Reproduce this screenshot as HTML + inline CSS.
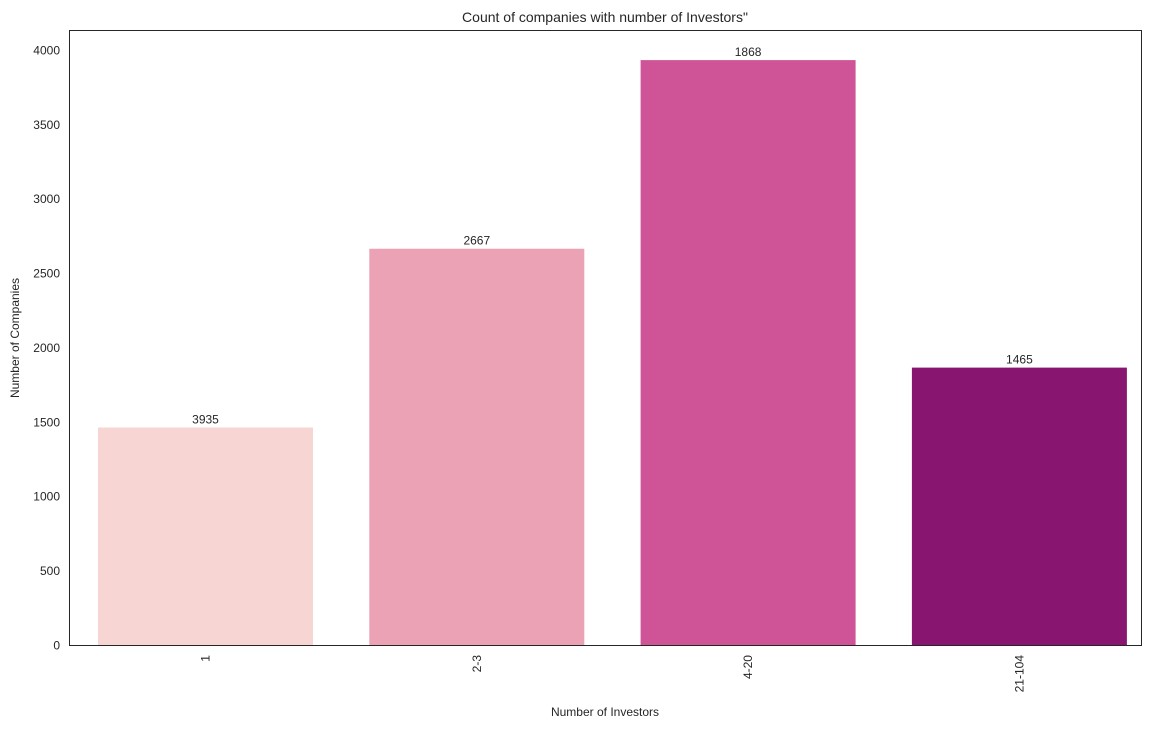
<!DOCTYPE html>
<html><head><meta charset="utf-8">
<style>
html,body{margin:0;padding:0;background:#fff;}
svg text{font-family:"Liberation Sans",sans-serif;fill:#262626;}
</style></head>
<body>
<svg id="chart" width="1165" height="728" viewBox="0 0 1165 728" xmlns="http://www.w3.org/2000/svg">
<text x="605" y="22" text-anchor="middle" font-size="14">Count of companies with number of Investors"</text>
<text x="605" y="716" text-anchor="middle" font-size="12">Number of Investors</text>
<text transform="translate(19,338) rotate(-90)" text-anchor="middle" font-size="12">Number of Companies</text>
<g id="bars"></g>
<g id="yticks"></g>
<g id="xticks"></g>
<rect x="69.5" y="30.5" width="1072" height="615" fill="none" stroke="#262626" stroke-width="1"/>
</svg>
<script>
const categories = ["1", "2-3", "4-20", "21-104"];
const heights = [1465, 2667, 3935, 1868];
const valueLabels = ["3935", "2667", "1868", "1465"];
const colors = ["#f6d5d3", "#eca2b5", "#ce5497", "#88156f"];
const yTicks = [0, 500, 1000, 1500, 2000, 2500, 3000, 3500, 4000];

const NS = "http://www.w3.org/2000/svg";
const plotTop = 30.5, plotBottom = 645.5;
const yMax = 4134;
function yScale(v){ return plotBottom - v / yMax * (plotBottom - plotTop); }
const band = 271.3;
const firstCenter = 205.5;
const barW = 215;
function xCenter(i){ return firstCenter + band * i; }

const gb = document.getElementById("bars");
const gy = document.getElementById("yticks");
const gx = document.getElementById("xticks");

categories.forEach((c, i) => {
  const r = document.createElementNS(NS, "rect");
  r.setAttribute("x", xCenter(i) - barW / 2);
  r.setAttribute("y", yScale(heights[i]));
  r.setAttribute("width", barW);
  r.setAttribute("height", plotBottom - yScale(heights[i]));
  r.setAttribute("fill", colors[i]);
  
  
  gb.appendChild(r);

  const t = document.createElementNS(NS, "text");
  t.setAttribute("x", xCenter(i));
  t.setAttribute("y", yScale(heights[i]) - 4);
  t.setAttribute("text-anchor", "middle");
  t.setAttribute("font-size", "12");
  t.textContent = valueLabels[i];
  
  
  gb.appendChild(t);

  const xt = document.createElementNS(NS, "text");
  xt.setAttribute("transform", "translate(" + (xCenter(i) + 4) + ",655) rotate(-90)");
  xt.setAttribute("text-anchor", "end");
  xt.setAttribute("font-size", "12");
  xt.textContent = c;
  
  
  gx.appendChild(xt);
});

yTicks.forEach(v => {
  const t = document.createElementNS(NS, "text");
  t.setAttribute("x", 60);
  t.setAttribute("y", yScale(v) + 4);
  t.setAttribute("text-anchor", "end");
  t.setAttribute("font-size", "12");
  t.textContent = v;
  
  
  gy.appendChild(t);
});
</script>
</body></html>
